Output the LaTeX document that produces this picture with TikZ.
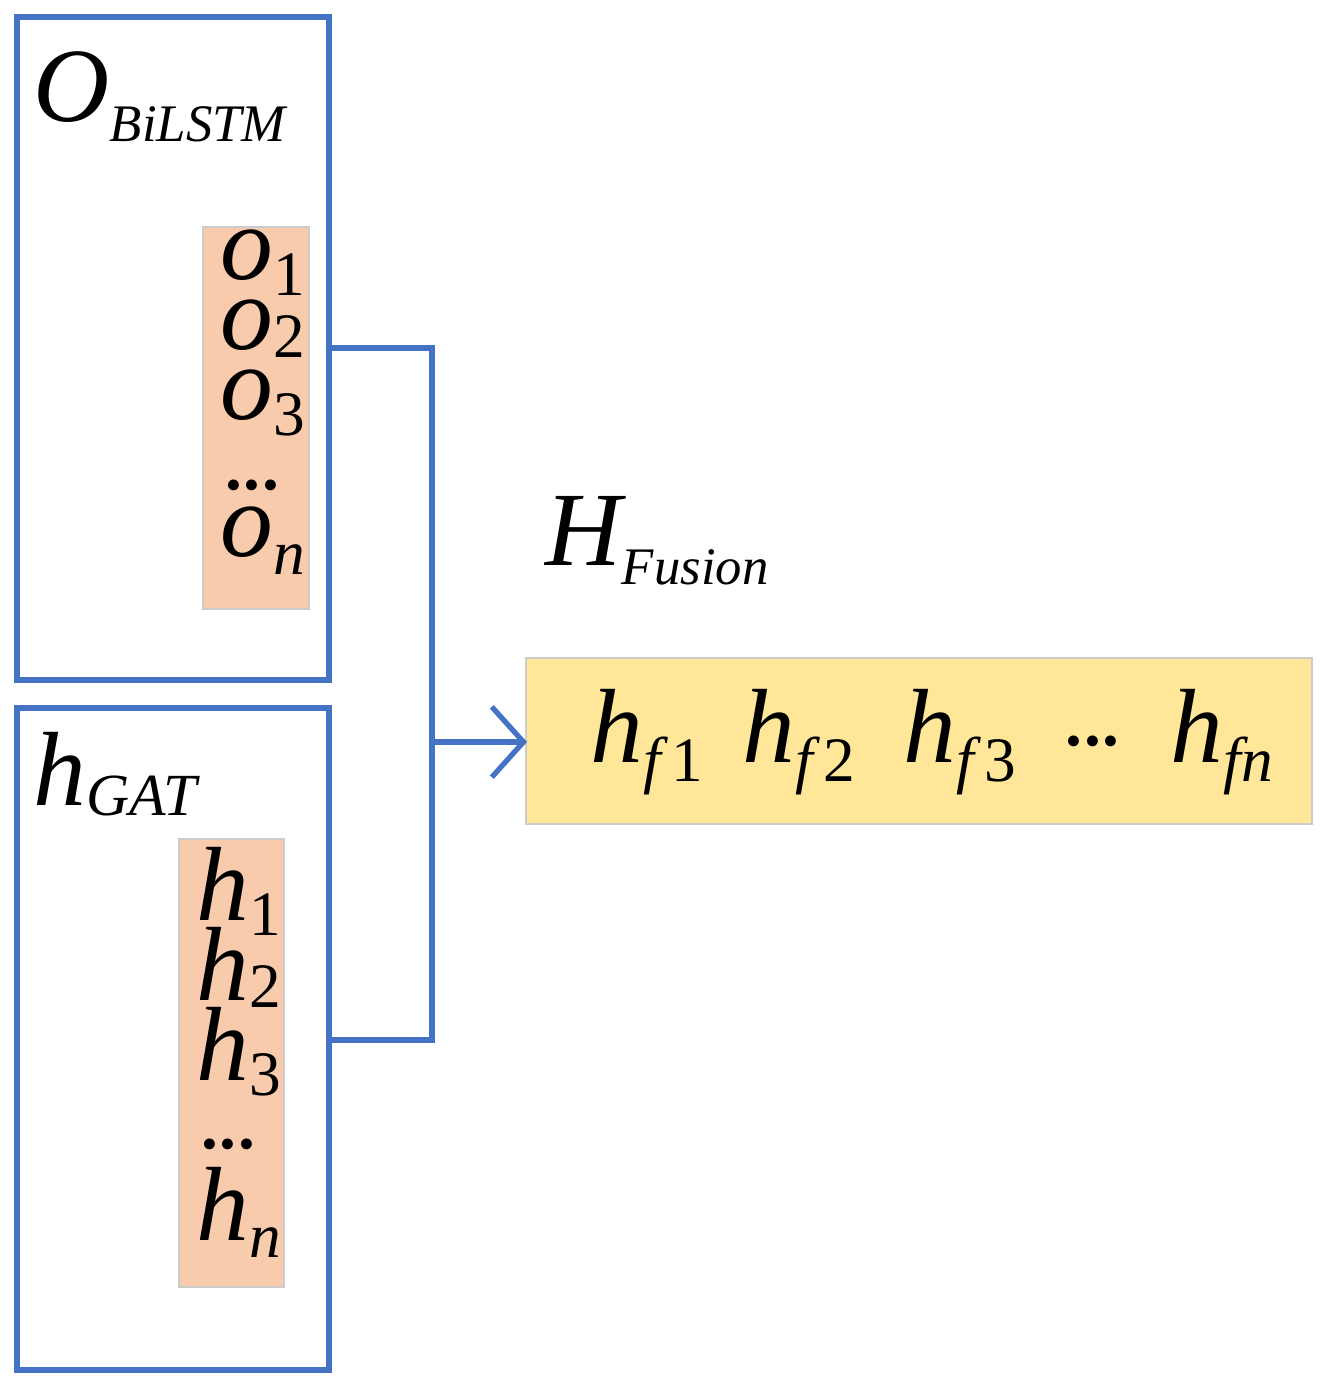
\documentclass[tikz,border=0pt]{standalone}
\usepackage{fontspec}
\setmainfont{Liberation Serif}[ItalicFont={Liberation Serif Italic},UprightFont={Liberation Serif}]
\usetikzlibrary{arrows.meta}
\definecolor{bl}{HTML}{4472C4}
\definecolor{org}{HTML}{F8CBAD}
\definecolor{yel}{HTML}{FFE699}
\newcommand{\bigv}[1]{{\fontsize{30}{30}\selectfont\itshape #1}}
\newcommand{\sbs}[2]{\raisebox{-#2}{\fontsize{18}{18}\selectfont #1}}
\newcommand{\dts}{{\fontsize{26}{26}\selectfont .\kern-0.05em.\kern-0.05em.}}
\begin{document}
\begin{tikzpicture}[x=0.01cm,y=-0.01cm,
  box/.style={draw=bl,line width=1.5pt},
  cell/.style={draw=black!20,line width=0.4pt},
  lbl/.style={anchor=base west,inner sep=0pt},
  con/.style={draw=bl,line width=1.5pt}]
\useasboundingbox (0,0) rectangle (1329,1389);
\draw[box] (17,17) rectangle (329,680);
\draw[box] (17,708) rectangle (329,1370);
\draw[cell,fill=org] (203,227) rectangle (309,609);
\draw[cell,fill=org] (179,839) rectangle (284,1287);
\draw[cell,fill=yel] (526,658) rectangle (1312,824);
\node[lbl] (lo) at (33,122) {\bigv{O}\raisebox{-0.55em}{\fontsize{15}{15}\selectfont\itshape BiLSTM}};
\node[lbl] (lh) at (545,565) {\bigv{H}\raisebox{-0.55em}{\fontsize{15}{15}\selectfont\itshape Fusion}};
\node[lbl] (lg) at (33,805) {\bigv{h}\raisebox{-0.3em}{\fontsize{17}{17}\selectfont\itshape GAT}};
\node[lbl] (o1) at (220,280) {\bigv{o}\sbs{1}{0.45em}};
\node[lbl] (o2) at (220,350) {\bigv{o}\sbs{2}{0.2em}};
\node[lbl] (o3) at (220,420) {\bigv{o}\sbs{3}{0.45em}};
\node[lbl] (od) at (222,490) {\dts};
\node[lbl] (on) at (220,557) {\bigv{o}\sbs{\itshape n}{0.5em}};
\node[lbl] (h1) at (196,920) {\bigv{h}\sbs{1}{0.45em}};
\node[lbl] (h2) at (196,1000) {\bigv{h}\sbs{2}{0.2em}};
\node[lbl] (h3) at (196,1080) {\bigv{h}\sbs{3}{0.45em}};
\node[lbl] (hd) at (198,1148) {\dts};
\node[lbl] (hn) at (196,1240) {\bigv{h}\sbs{\itshape n}{0.5em}};
\node[lbl] (f1) at (590,762) {\bigv{h}\sbs{\itshape f\,\upshape 1}{0.55em}};
\node[lbl] (f2) at (742,762) {\bigv{h}\sbs{\itshape f\,\upshape 2}{0.55em}};
\node[lbl] (f3) at (903,762) {\bigv{h}\sbs{\itshape f\,\upshape 3}{0.55em}};
\node[lbl] (fd) at (1062,745) {\dts};
\node[lbl] (fn) at (1170,762) {\bigv{h}\sbs{\itshape fn}{0.55em}};
\coordinate (a) at (327,348);
\coordinate (b) at (432,348);
\coordinate (c) at (432,1040);
\coordinate (d) at (327,1040);
\coordinate (m) at (432,742);
\coordinate (t) at (527,742);
\draw[con] (a) -- (b) -- (c) -- (d);
\draw[con,-{Straight Barb[length=9pt,width=20pt,line width=1.5pt]}] (m) -- (t);
\end{tikzpicture}
\end{document}
